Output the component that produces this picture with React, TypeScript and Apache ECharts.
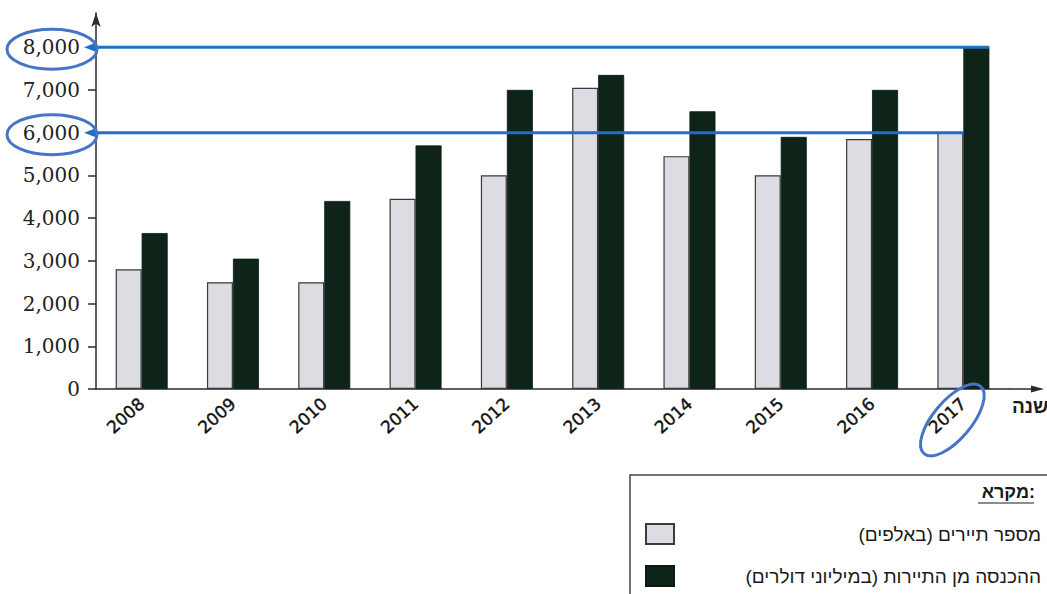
import React, { useEffect, useRef } from 'react';
import * as echarts from 'echarts';

const years = ['2008', '2009', '2010', '2011', '2012', '2013', '2014', '2015', '2016', '2017'];
const tourists = [2800, 2500, 2500, 4450, 5000, 7050, 5450, 5000, 5850, 6000];
const revenue = [3650, 3050, 4400, 5700, 7000, 7350, 6500, 5900, 7000, 8000];
const yTicks = [0, 1000, 2000, 3000, 4000, 5000, 6000, 7000, 8000];
const seriesNames = ['מספר תיירים (באלפים)', 'ההכנסה מן התיירות (במיליוני דולרים)'];
const legendTitle = 'מקרא:';
const xAxisName = 'שנה';
const highlightYear = '2017';

const W = 1047;
const H = 594;
const GRID = { left: 96, right: 38, top: 13, bottom: 205 };
const BAR_W = 26;
const AXIS = '#2a2a2a';
const BLUE = '#1f6fc5';
const RING = '#4674c6';
const LIGHT = '#dcdce2';
const DARK = '#0e2419';

export default function App() {
  const ref = useRef<HTMLDivElement>(null);
  useEffect(() => {
    if (!ref.current) return;
    const chart = echarts.init(ref.current, null, { renderer: 'svg' });
    const option: any = {
      animation: false,
      backgroundColor: '#ffffff',
      grid: { ...GRID },
      xAxis: {
        type: 'category',
        data: years,
        axisLine: { lineStyle: { color: AXIS, width: 1.5 } },
        axisTick: { length: 7, lineStyle: { color: AXIS, width: 1.5 } },
        axisLabel: {
          rotate: 42,
          margin: 12,
          fontFamily: 'DejaVu Sans',
          fontSize: 17,
          color: '#111',
          textBorderColor: '#111',
          textBorderWidth: 0.4,
        },
      },
      yAxis: {
        type: 'value',
        min: 0,
        max: 8800,
        axisLine: {
          show: true,
          symbol: ['none', 'arrow'],
          symbolSize: [7, 14],
          lineStyle: { color: AXIS, width: 1.5 },
        },
        axisTick: { show: true, length: 8, customValues: yTicks, lineStyle: { color: AXIS, width: 1.5 } },
        axisLabel: {
          customValues: yTicks,
          margin: 16,
          fontFamily: 'DejaVu Serif',
          fontSize: 20,
          color: '#222',
          formatter: (v: number) => v.toLocaleString('en-US'),
        },
        splitLine: { show: false },
      },
      legend: {
        orient: 'vertical',
        left: 640,
        top: 518,
        itemWidth: 28,
        itemHeight: 20,
        itemGap: 20,
        icon: 'rect',
        data: seriesNames,
        formatter: (name: string) => `{t|\u202B${name}\u202C}`,
        textStyle: {
          rich: {
            t: {
              width: 362,
              align: 'right',
              fontFamily: 'Liberation Sans',
              fontSize: 19,
              color: '#1a1a1a',
            },
          },
        },
      },
      series: [
        {
          name: seriesNames[0],
          type: 'bar',
          data: tourists,
          barWidth: BAR_W,
          barGap: '0%',
          itemStyle: { color: LIGHT, borderColor: '#3a3a3a', borderWidth: 1.2 },
        },
        {
          name: seriesNames[1],
          type: 'bar',
          data: revenue,
          barWidth: BAR_W,
          barGap: '0%',
          itemStyle: { color: DARK, borderColor: '#0a1a12', borderWidth: 0.8 },
        },
      ],
    };
    chart.setOption(option);

    const last = years.indexOf(highlightYear);
    const y0 = chart.convertToPixel({ yAxisIndex: 0 }, 0) as number;
    const cx = chart.convertToPixel({ xAxisIndex: 0 }, last) as number;
    const axisX = GRID.left;
    const plotRight = W - GRID.right;
    const marks = [
      { v: revenue[last], end: cx + BAR_W },
      { v: tourists[last], end: cx },
    ];
    const elements: any[] = [];
    elements.push({
      type: 'line', z: 10, silent: true,
      shape: { x1: plotRight, y1: y0, x2: 1036, y2: y0 },
      style: { stroke: AXIS, lineWidth: 1.5 },
    });
    elements.push({
      type: 'polygon', z: 10, silent: true,
      shape: { points: [[1044, y0], [1031, y0 - 3.5], [1031, y0 + 3.5]] },
      style: { fill: AXIS },
    });
    elements.push({
      type: 'text', z: 10, silent: true,
      x: 1012, y: y0 + 17,
      style: {
        text: xAxisName, fontFamily: 'Liberation Sans', fontSize: 19, fontWeight: 'bold',
        fill: '#1a1a1a', align: 'left', verticalAlign: 'middle',
      },
    });
    marks.forEach((m) => {
      const y = chart.convertToPixel({ yAxisIndex: 0 }, m.v) as number;
      elements.push({
        type: 'line', z: 10, silent: true,
        shape: { x1: axisX - 1, y1: y, x2: m.end, y2: y },
        style: { stroke: BLUE, lineWidth: 3 },
      });
      elements.push({
        type: 'polygon', z: 11, silent: true,
        shape: { points: [[84, y], [97, y - 5], [97, y + 5]] },
        style: { fill: BLUE },
      });
      elements.push({
        type: 'ellipse', z: 11, silent: true,
        shape: { cx: 52, cy: y + 2, rx: 45, ry: 20 },
        style: { fill: 'none', stroke: RING, lineWidth: 3 },
      });
    });
    elements.push({
      type: 'ellipse', z: 11, silent: true,
      x: cx - 11, y: y0 + 31, rotation: (50 * Math.PI) / 180,
      shape: { cx: 0, cy: 0, rx: 44, ry: 19 },
      style: { fill: 'none', stroke: RING, lineWidth: 3 },
    });
    elements.push({
      type: 'rect', z: 1, silent: true,
      shape: { x: 630, y: 475, width: 440, height: 140 },
      style: { fill: 'none', stroke: '#444', lineWidth: 1.5 },
    });
    elements.push({
      type: 'text', z: 10, silent: true,
      x: 1035, y: 492,
      style: {
        text: legendTitle, fontFamily: 'Liberation Sans', fontSize: 18, fontWeight: 'bold',
        fill: '#1a1a1a', align: 'right', verticalAlign: 'middle',
      },
    });
    elements.push({
      type: 'line', z: 10, silent: true,
      shape: { x1: 978, y1: 503, x2: 1034, y2: 503 },
      style: { stroke: '#1a1a1a', lineWidth: 1.2 },
    });
    chart.setOption({ graphic: elements });

    return () => chart.dispose();
  }, []);
  return (
    <div
      ref={ref}
      style={{ position: 'absolute', left: 0, top: 0, width: W, height: H, background: '#fff' }}
    />
  );
}
